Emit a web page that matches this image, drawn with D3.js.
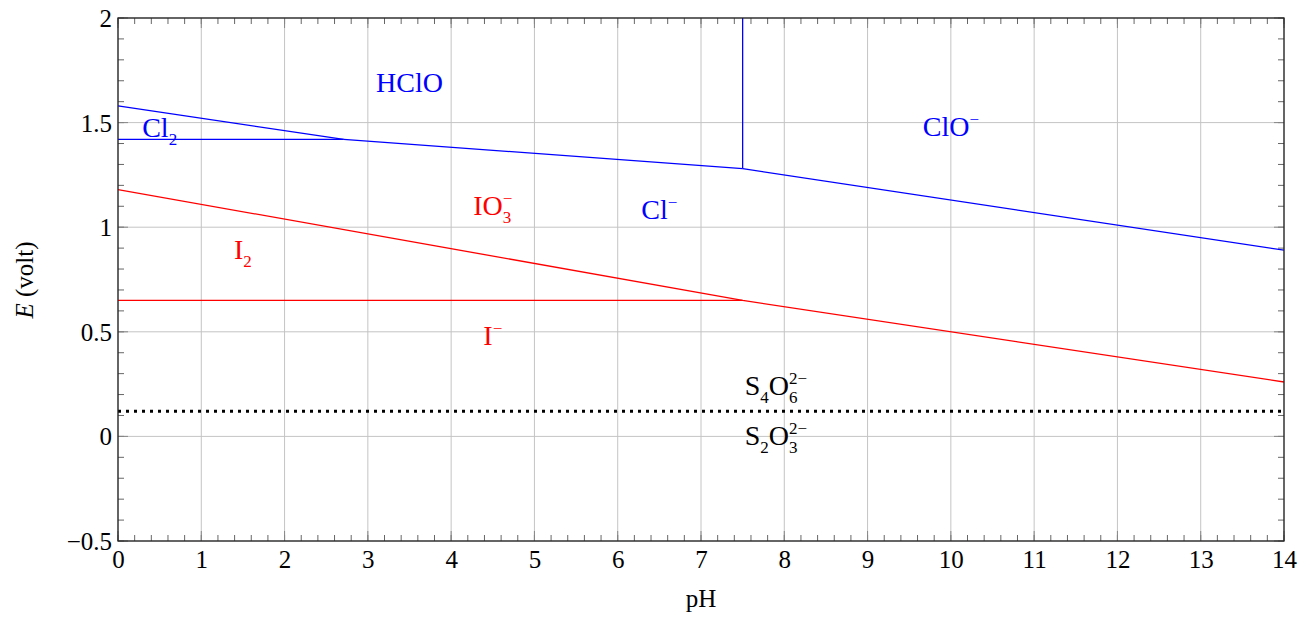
<!DOCTYPE html>
<html>
<head>
<meta charset="utf-8">
<script src="https://cdn.jsdelivr.net/npm/d3@7"></script>
<style>
  body { margin: 0; background: #fff; }
  text { font-family: "Liberation Serif", "DejaVu Serif", serif; }
</style>
</head>
<body>
<svg id="chart" width="1307" height="617"></svg>
<script>
// boundary lines, [pH, E]
var cl2_hclo = [[0, 1.58], [2.71, 1.42]]
var cl2_cl = [[0, 1.42], [2.71, 1.42]]
var hclo_cl = [[2.71, 1.42], [7.5, 1.28]]
var hclo_clo = [[7.5, 1.28], [7.5, 2]]
var clo_cl = [[7.5, 1.28], [14, 0.89]]
var io3_i2 = [[0, 1.18], [7.5, 0.65], [14, 0.26]]
var i2_i = [[0, 0.65], [7.5, 0.65]]
var s4o6_s2o3 = [[0, 0.12], [14, 0.12]]

var x_ticks = [0,1,2,3,4,5,6,7,8,9,10,11,12,13,14]
var y_ticks = [-0.5, 0, 0.5, 1, 1.5, 2]

// species labels: [pH, E, parts]
var blue_labels = [
	[3.5, 1.69, [['HClO']]],
	[0.5, 1.475, [['Cl'], ['2', 'sub']]],
	[10, 1.48, [['ClO'], ['\u2212', 'sup']]],
	[6.5, 1.08, [['Cl'], ['\u2212', 'sup']]]
]
var red_labels = [
	[4.5, 1.1, [['IO'], ['3', 'sub'], ['\u2212', 'sup']]],
	[1.5, 0.89, [['I'], ['2', 'sub']]],
	[4.5, 0.48, [['I'], ['\u2212', 'sup']]]
]
var black_labels = [
	[7.9, 0.24, [['S'], ['4', 'sub'], ['O'], ['6', 'sub'], ['2\u2212', 'sup']]],
	[7.9, 0.0, [['S'], ['2', 'sub'], ['O'], ['3', 'sub'], ['2\u2212', 'sup']]]
]

var svg = d3.select('#chart')
var margin = {'top': 18, 'right': 23, 'bottom': 76, 'left': 118}
var w = +svg.attr('width') - margin.left - margin.right
var h = +svg.attr('height') - margin.top - margin.bottom

var g = svg.append('g').attr('transform', 'translate(' + margin.left + ',' + margin.top + ')')

var xs = d3.scaleLinear().domain([0, 14]).range([0, w])
var ys = d3.scaleLinear().domain([-0.5, 2]).range([h, 0])

// grid
g.append('g').selectAll('line').data(x_ticks).enter().append('line')
	.attr('x1', d => xs(d)).attr('x2', d => xs(d)).attr('y1', 0).attr('y2', h)
	.attr('stroke', '#c4c4c4').attr('stroke-width', 1)
g.append('g').selectAll('line').data(y_ticks).enter().append('line')
	.attr('y1', d => ys(d)).attr('y2', d => ys(d)).attr('x1', 0).attr('x2', w)
	.attr('stroke', '#c4c4c4').attr('stroke-width', 1)

// ticks on all four sides, pointing inward
var x_minor = d3.range(0, 14.001, 0.2)
var y_minor = d3.range(-0.5, 2.001, 0.1)
function ticks_x(vals, len, col) {
	[[h, -1], [0, 1]].forEach(function (s) {
		g.append('g').selectAll('line').data(vals).enter().append('line')
			.attr('x1', d => xs(d)).attr('x2', d => xs(d))
			.attr('y1', s[0]).attr('y2', s[0] + s[1] * len)
			.attr('stroke', col).attr('stroke-width', 1)
	})
}
function ticks_y(vals, len, col) {
	[[0, 1], [w, -1]].forEach(function (s) {
		g.append('g').selectAll('line').data(vals).enter().append('line')
			.attr('y1', d => ys(d)).attr('y2', d => ys(d))
			.attr('x1', s[0]).attr('x2', s[0] + s[1] * len)
			.attr('stroke', col).attr('stroke-width', 1)
	})
}
ticks_x(x_minor, 6, '#666')
ticks_y(y_minor, 6, '#666')
ticks_x(x_ticks, 10, '#888')
ticks_y(y_ticks, 10, '#888')

// tick labels via axes, lines hidden
var fmt = function (d) { return d < 0 ? '\u2212' + Math.abs(d) : String(d) }
var xa = g.append('g').attr('transform', 'translate(0,' + h + ')')
	.call(d3.axisBottom(xs).tickValues(x_ticks).tickSize(0).tickPadding(9).tickFormat(fmt))
var ya = g.append('g')
	.call(d3.axisLeft(ys).tickValues(y_ticks).tickSize(0).tickPadding(6).tickFormat(fmt))
;[xa, ya].forEach(function (a) {
	a.attr('font-family', null).attr('font-size', null)
	a.select('.domain').remove()
	a.selectAll('text').style('font-family', '"Liberation Serif", serif').style('font-size', '25px').attr('fill', '#000')
})
ya.selectAll('text').attr('dy', '0.34em')

// curves
var line = d3.line().x(d => xs(d[0])).y(d => ys(d[1]))
;[cl2_hclo, cl2_cl, hclo_cl, hclo_clo, clo_cl].forEach(function (d) {
	g.append('path').attr('d', line(d)).attr('fill', 'none').attr('stroke', '#0000ff').attr('stroke-width', 1.3)
})
;[io3_i2, i2_i].forEach(function (d) {
	g.append('path').attr('d', line(d)).attr('fill', 'none').attr('stroke', '#ff0000').attr('stroke-width', 1.3)
})
g.append('path').attr('d', line(s4o6_s2o3)).attr('fill', 'none').attr('stroke', '#000')
	.attr('stroke-width', 3).attr('stroke-dasharray', '3 5')

// frame
g.append('rect').attr('width', w).attr('height', h).attr('fill', 'none').attr('stroke', '#222').attr('stroke-width', 1.3)

// species labels, one text element each; sub and sup stacked
var big = 28, small = 17, sub_dy = 8, sup_dy = -11
var meas = svg.append('text').attr('visibility', 'hidden')
function width_of(s, size) {
	meas.style('font-size', size + 'px').text(s)
	return meas.node().getComputedTextLength()
}
function chem(lab, col) {
	var t = g.append('text').attr('fill', col).style('font-size', big + 'px')
	var x = 0, base = 0, sub_w = null
	lab[2].forEach(function (p) {
		var kind = p[1] || 'n'
		var ts = t.append('tspan').text(p[0])
		if (kind == 'n') {
			ts.attr('dy', -base)
			base = 0
			x += width_of(p[0], big)
			sub_w = null
		} else if (kind == 'sub') {
			ts.style('font-size', small + 'px').attr('dy', sub_dy - base)
			base = sub_dy
			sub_w = width_of(p[0], small)
			x += sub_w
		} else {
			var sw = width_of(p[0], small)
			var back = sub_w != null ? -sub_w : 0
			ts.style('font-size', small + 'px').attr('dx', back).attr('dy', sup_dy - base)
			base = sup_dy
			x += back + sw
			if (sub_w != null && sub_w > sw) x += sub_w - sw
			sub_w = null
		}
	})
	t.attr('x', xs(lab[0]) - x / 2).attr('y', ys(lab[1]) + 9)
}
blue_labels.forEach(l => chem(l, '#0000ff'))
red_labels.forEach(l => chem(l, '#ff0000'))
black_labels.forEach(l => chem(l, '#000'))
meas.remove()

// axis titles
svg.append('text').attr('x', margin.left + w / 2).attr('y', 607).attr('text-anchor', 'middle')
	.style('font-size', '25px').text('pH')
var yt = svg.append('text').attr('transform', 'translate(33,280) rotate(-90)')
	.attr('text-anchor', 'middle').style('font-size', '25px')
yt.append('tspan').attr('font-style', 'italic').text('E')
yt.append('tspan').text(' (volt)')
</script>
</body>
</html>
